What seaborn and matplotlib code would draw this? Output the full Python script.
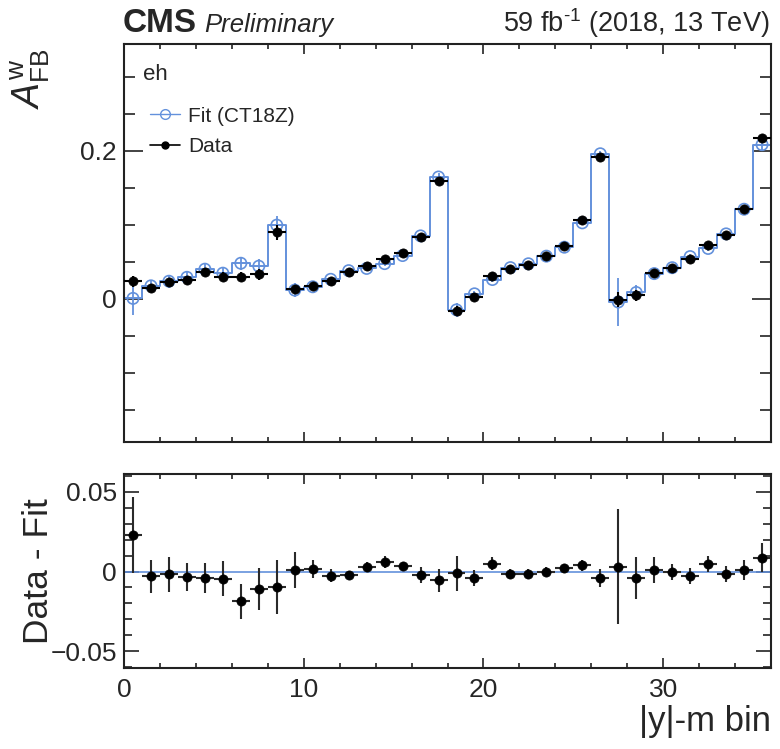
import numpy as np
import pandas as pd
import matplotlib
matplotlib.use("Agg")
import matplotlib.pyplot as plt
from matplotlib.ticker import MultipleLocator, FuncFormatter
from matplotlib.lines import Line2D
import seaborn as sns

# |y|-m bin index (4 rapidity slices x 9 mass bins)
bin_index = np.arange(36)

# Measured A_FB^w and its uncertainty
data_afb = [0.0235, 0.0145, 0.022, 0.0255, 0.036, 0.030, 0.0295, 0.033, 0.090,
            0.0127, 0.0177, 0.0236, 0.036, 0.044, 0.0535, 0.0617, 0.083, 0.159,
            -0.016, 0.0027, 0.031, 0.0404, 0.0458, 0.0576, 0.0717, 0.1066, 0.192,
            -0.0014, 0.0045, 0.035, 0.042, 0.054, 0.073, 0.086, 0.122, 0.217]
data_afb_err = [0.007, 0.006, 0.005, 0.005, 0.005, 0.006, 0.006, 0.007, 0.010,
                0.006, 0.003, 0.002, 0.002, 0.002, 0.002, 0.002, 0.003, 0.004,
                0.006, 0.003, 0.002, 0.002, 0.002, 0.002, 0.002, 0.002, 0.003,
                0.010, 0.007, 0.004, 0.003, 0.003, 0.003, 0.003, 0.003, 0.005]

# Data - Fit residuals and total uncertainty
residual = [0.023, -0.003, -0.0017, -0.0035, -0.004, -0.0046, -0.0185, -0.011, -0.0095,
            0.001, 0.0015, -0.0027, -0.002, 0.003, 0.006, 0.0033, -0.002, -0.0056,
            -0.001, -0.004, 0.005, -0.0017, -0.0015, 0.0, 0.002, 0.004, -0.004,
            0.003, -0.004, 0.001, 0.0, -0.003, 0.005, -0.0017, 0.001, 0.0087]
residual_err = [0.024, 0.0105, 0.011, 0.009, 0.0095, 0.011, 0.011, 0.013, 0.017,
                0.0114, 0.0055, 0.004, 0.0025, 0.003, 0.004, 0.003, 0.005, 0.007,
                0.011, 0.005, 0.004, 0.003, 0.003, 0.003, 0.003, 0.0035, 0.0055,
                0.036, 0.013, 0.008, 0.005, 0.005, 0.005, 0.005, 0.006, 0.009]

# Fit (CT18Z) uncertainty
fit_err = [0.022, 0.008, 0.009, 0.007, 0.007, 0.009, 0.009, 0.010, 0.013,
           0.009, 0.004, 0.003, 0.001, 0.002, 0.003, 0.002, 0.004, 0.005,
           0.009, 0.004, 0.003, 0.002, 0.002, 0.002, 0.002, 0.003, 0.004,
           0.033, 0.010, 0.006, 0.004, 0.004, 0.004, 0.004, 0.005, 0.007]

sns.set_style("ticks")
plt.rcParams["font.family"] = ["Liberation Sans", "DejaVu Sans"]
plt.rcParams["mathtext.fontset"] = "custom"
plt.rcParams["mathtext.rm"] = "Liberation Sans"
plt.rcParams["mathtext.it"] = "Liberation Sans:italic"
plt.rcParams["mathtext.bf"] = "Liberation Sans:bold"
plt.rcParams["axes.unicode_minus"] = True

BLUE = "#6391dc"
centers = bin_index + 0.5
fit_afb = np.array(data_afb) - np.array(residual)
df = pd.DataFrame({"bin": centers, "data": data_afb, "fit": fit_afb,
                   "res": residual})

fig = plt.figure(figsize=(7.8, 7.49), dpi=100)
ax = fig.add_axes([0.159, 0.4095, 0.8295, 0.5314])
axr = fig.add_axes([0.159, 0.1081, 0.8295, 0.2587])

# ---- upper panel: fit histogram and data points
sns.histplot(data=df, x="bin", weights="fit", binwidth=1, binrange=(0, 36),
             element="step", fill=False, color=BLUE, linewidth=1.4, ax=ax)
ax.errorbar(centers, fit_afb, yerr=fit_err, fmt="none", ecolor=BLUE,
            elinewidth=1.3, capsize=0, zorder=3)
sns.scatterplot(data=df, x="bin", y="fit", marker="o", s=66, color=BLUE,
                facecolor="none", edgecolor=BLUE, linewidth=1.2, ax=ax, zorder=4)
ax.collections[-1].set_facecolor("none")
ax.errorbar(centers, data_afb, xerr=0.5, yerr=data_afb_err, fmt="none",
            ecolor="black", elinewidth=1.5, capsize=0, zorder=5)
sns.scatterplot(data=df, x="bin", y="data", marker="o", s=44, color="black",
                edgecolor="black", linewidth=0.5, ax=ax, zorder=6)

# ---- lower panel: residuals
axr.axhline(0, color=BLUE, lw=1.2, zorder=1)
axr.errorbar(centers, residual, xerr=0.5, yerr=residual_err, fmt="none",
             ecolor="#2a2a2a", elinewidth=1.5, capsize=0, zorder=3)
sns.scatterplot(data=df, x="bin", y="res", marker="o", s=44, color="black",
                edgecolor="black", linewidth=0.5, ax=axr, zorder=4)

def fmt(v, _):
    if abs(v) < 1e-9:
        return "0"
    return f"{v:g}".replace("-", "\u2212")

ax.set_xlim(0, 36)
ax.set_ylim(-0.194, 0.344)
axr.set_xlim(0, 36)
axr.set_ylim(-0.0605, 0.061)

for a in (ax, axr):
    a.xaxis.set_major_locator(MultipleLocator(10))
    a.xaxis.set_minor_locator(MultipleLocator(2))
    a.yaxis.set_major_formatter(FuncFormatter(fmt))
    a.xaxis.set_major_formatter(FuncFormatter(fmt))
    a.tick_params(which="both", direction="in", top=True, right=True,
                  labelsize=19, width=1.2, color="#222222")
    a.tick_params(axis="x", which="major", length=7, pad=7)
    a.tick_params(axis="x", which="minor", length=3.5)
    for sp in a.spines.values():
        sp.set_linewidth(1.5)
        sp.set_color("#222222")

ax.yaxis.set_major_locator(MultipleLocator(0.2))
ax.yaxis.set_minor_locator(MultipleLocator(0.05))
ax.tick_params(axis="y", which="major", length=14, pad=5)
ax.tick_params(axis="y", which="minor", length=8)
ax.tick_params(labelbottom=False)
ax.set_xlabel("")

axr.yaxis.set_major_locator(MultipleLocator(0.05))
axr.yaxis.set_minor_locator(MultipleLocator(0.01))
axr.tick_params(axis="y", which="major", length=11, pad=5)
axr.tick_params(axis="y", which="minor", length=6)

ax.set_ylabel(r"$\mathit{A}^{\mathrm{w}}_{\mathrm{FB}}$", fontsize=27, loc="top")
ax.yaxis.set_label_coords(-0.112, 0.99)
axr.set_ylabel("Data - Fit", fontsize=25.5)
axr.yaxis.set_label_coords(-0.106, 0.5)
axr.set_xlabel("|y|-m bin", fontsize=25, loc="right")
axr.xaxis.set_label_coords(1.0, -0.19)

# legend and channel label
ax.text(0.029, 0.91, "eh", transform=ax.transAxes, fontsize=16, va="baseline")
handles = [Line2D([], [], color=BLUE, marker="o", mfc="none", mec=BLUE, lw=1.0, ms=7),
           Line2D([], [], color="black", marker="o", ms=5, lw=1.2)]
ax.legend(handles, ["Fit (CT18Z)", "Data"], loc="upper left",
          bbox_to_anchor=(0.04, 0.843), frameon=False, fontsize=15,
          handlelength=1.45, handletextpad=0.4, labelspacing=0.55,
          borderaxespad=0, borderpad=0)

# header
fig.text(123 / 780, 1 - 32 / 749, "CMS", fontsize=24, fontweight="bold",
         va="baseline", ha="left")
fig.text(204 / 780, 1 - 32 / 749, "Preliminary", fontsize=18.5, fontstyle="italic",
         va="baseline", ha="left")
fig.text(770 / 780, 1 - 32 / 749, r"59 fb$^{\text{-1}}$ (2018, 13 TeV)", fontsize=19.5,
         va="baseline", ha="right")

fig.savefig("out.png", dpi=100)
